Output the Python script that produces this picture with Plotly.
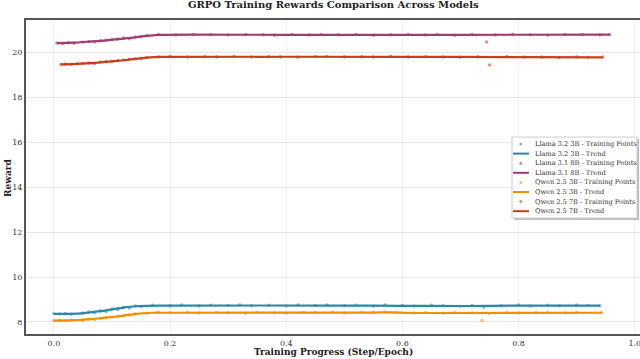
import plotly.graph_objects as go

# ---------------- data ----------------
models = ["Llama 3.2 3B", "Llama 3.1 8B", "Qwen 2.5 3B", "Qwen 2.5 7B"]
colors = ["#2E86AB", "#A23B72", "#F18F01", "#C73E1D"]

llama32_x = [0.00, 0.01, 0.02, 0.03, 0.05, 0.06, 0.07, 0.08, 0.09, 0.10, 0.11, 0.12, 0.13, 0.14, 0.15, 0.17,
             0.20, 0.22, 0.25, 0.27, 0.30, 0.32, 0.34, 0.37, 0.40, 0.42, 0.45, 0.47, 0.50, 0.52, 0.55, 0.57,
             0.60, 0.62, 0.65, 0.67, 0.70, 0.72, 0.74, 0.77, 0.80, 0.82, 0.85, 0.87, 0.90, 0.92, 0.94]
llama32_y = [8.37, 8.35, 8.38, 8.34, 8.40, 8.44, 8.41, 8.50, 8.47, 8.58, 8.55, 8.66, 8.62, 8.71, 8.69, 8.74,
             8.72, 8.75, 8.71, 8.74, 8.73, 8.76, 8.72, 8.74, 8.71, 8.75, 8.73, 8.76, 8.72, 8.74, 8.70, 8.75,
             8.73, 8.71, 8.74, 8.72, 8.70, 8.73, 8.66, 8.72, 8.75, 8.71, 8.74, 8.72, 8.75, 8.73, 8.72]
llama32_trend_x = [0.00, 0.04, 0.06, 0.08, 0.10, 0.12, 0.14, 0.16, 0.20, 0.50, 0.60, 0.70, 0.80, 0.94]
llama32_trend_y = [8.36, 8.37, 8.42, 8.48, 8.56, 8.64, 8.70, 8.72, 8.73, 8.73, 8.72, 8.71, 8.73, 8.73]

llama31_x = [0.005, 0.015, 0.025, 0.035, 0.05, 0.06, 0.07, 0.08, 0.09, 0.10, 0.11, 0.12, 0.13, 0.14, 0.15, 0.16,
             0.18, 0.21, 0.24, 0.27, 0.30, 0.33, 0.36, 0.38, 0.41, 0.44, 0.46, 0.49, 0.52, 0.55, 0.58, 0.61,
             0.64, 0.66, 0.69, 0.72, 0.745, 0.76, 0.79, 0.82, 0.85, 0.88, 0.91, 0.94, 0.957]
llama31_y = [20.41, 20.39, 20.42, 20.40, 20.44, 20.47, 20.45, 20.51, 20.53, 20.56, 20.58, 20.63, 20.60, 20.67, 20.70, 20.73,
             20.78, 20.76, 20.79, 20.77, 20.76, 20.79, 20.77, 20.75, 20.78, 20.76, 20.79, 20.77, 20.78, 20.75, 20.77, 20.79,
             20.76, 20.78, 20.75, 20.79, 20.45, 20.76, 20.80, 20.77, 20.75, 20.78, 20.79, 20.76, 20.78]
llama31_trend_x = [0.005, 0.033, 0.062, 0.09, 0.127, 0.155, 0.18, 0.40, 0.70, 0.957]
llama31_trend_y = [20.40, 20.42, 20.47, 20.52, 20.62, 20.71, 20.77, 20.77, 20.77, 20.78]

qwen3_x = [0.00, 0.01, 0.02, 0.03, 0.05, 0.06, 0.07, 0.08, 0.09, 0.10, 0.11, 0.12, 0.13, 0.14, 0.16, 0.18,
           0.20, 0.23, 0.25, 0.28, 0.30, 0.33, 0.35, 0.38, 0.40, 0.43, 0.45, 0.48, 0.50, 0.53, 0.55, 0.57,
           0.59, 0.62, 0.64, 0.67, 0.69, 0.72, 0.737, 0.75, 0.78, 0.80, 0.83, 0.85, 0.88, 0.90, 0.943]
qwen3_y = [8.06, 8.08, 8.05, 8.09, 8.07, 8.12, 8.10, 8.16, 8.19, 8.21, 8.24, 8.27, 8.31, 8.36, 8.38, 8.42,
           8.41, 8.43, 8.40, 8.42, 8.41, 8.39, 8.43, 8.41, 8.40, 8.42, 8.41, 8.43, 8.40, 8.42, 8.43, 8.44,
           8.42, 8.40, 8.42, 8.39, 8.41, 8.40, 8.06, 8.38, 8.42, 8.40, 8.41, 8.43, 8.40, 8.42, 8.41]
qwen3_trend_x = [0.00, 0.04, 0.06, 0.09, 0.12, 0.14, 0.17, 0.20, 0.55, 0.58, 0.62, 0.943]
qwen3_trend_y = [8.06, 8.08, 8.12, 8.19, 8.28, 8.36, 8.41, 8.41, 8.42, 8.43, 8.40, 8.41]

qwen7_x = [0.012, 0.02, 0.03, 0.04, 0.05, 0.06, 0.07, 0.08, 0.09, 0.10, 0.11, 0.12, 0.13, 0.14, 0.15, 0.16,
           0.18, 0.20, 0.23, 0.26, 0.28, 0.31, 0.34, 0.37, 0.39, 0.42, 0.45, 0.47, 0.50, 0.53, 0.55, 0.58,
           0.61, 0.64, 0.67, 0.70, 0.73, 0.75, 0.78, 0.81, 0.84, 0.87, 0.90, 0.92, 0.945]
qwen7_y = [19.45, 19.47, 19.46, 19.48, 19.50, 19.52, 19.50, 19.56, 19.58, 19.60, 19.63, 19.65, 19.68, 19.71, 19.73, 19.77,
           19.79, 19.81, 19.78, 19.80, 19.79, 19.81, 19.78, 19.80, 19.79, 19.77, 19.80, 19.81, 19.78, 19.80, 19.79, 19.82,
           19.78, 19.80, 19.79, 19.77, 19.80, 19.43, 19.81, 19.78, 19.79, 19.76, 19.80, 19.77, 19.78]
qwen7_trend_x = [0.012, 0.033, 0.062, 0.09, 0.12, 0.148, 0.165, 0.183, 0.60, 0.80, 0.945]
qwen7_trend_y = [19.46, 19.47, 19.51, 19.57, 19.64, 19.72, 19.77, 19.79, 19.79, 19.78, 19.77]

points_x = [llama32_x, llama31_x, qwen3_x, qwen7_x]
points_y = [llama32_y, llama31_y, qwen3_y, qwen7_y]
trend_x = [llama32_trend_x, llama31_trend_x, qwen3_trend_x, qwen7_trend_x]
trend_y = [llama32_trend_y, llama31_trend_y, qwen3_trend_y, qwen7_trend_y]

y_ticks = [8, 10, 12, 14, 16, 18, 20]
x_ticks = [0.0, 0.2, 0.4, 0.6, 0.8, 1.0]

# ---------------- figure ----------------
W, H = 640, 359
ML, MR, MT, MB = 26, 0, 20, 25
FONT = "DejaVu Serif"
PW, PH = W - ML - MR, H - MT - MB


def px(x):
    return (x - ML) / PW


def py(y):
    return (H - MB - y) / PH


fig = go.Figure()
for i, m in enumerate(models):
    fig.add_trace(go.Scatter(x=points_x[i], y=points_y[i], mode="markers",
                             marker=dict(color=colors[i], size=3.5, opacity=0.55, line=dict(width=0)),
                             name=f"{m} - Training Points", showlegend=False))
    fig.add_trace(go.Scatter(x=trend_x[i], y=trend_y[i], mode="lines",
                             line=dict(color=colors[i], width=2.2, shape="spline", smoothing=0.6),
                             name=f"{m} - Trend", showlegend=False))

fig.update_layout(
    width=W, height=H,
    margin=dict(l=ML, r=MR, t=MT, b=MB, autoexpand=False),
    paper_bgcolor="white", plot_bgcolor="white",
    font=dict(family=FONT, color="#333333", size=8),
    xaxis=dict(range=[-0.048, 1.009], tickvals=x_ticks, ticktext=[f"{v:.1f}" for v in x_ticks],
               showgrid=True, gridcolor="rgba(0,0,0,0.05)", gridwidth=1, zeroline=False,
               showline=True, linecolor="#555555", linewidth=2, mirror=True, ticks="",
               ticklabeloverflow="allow",
               automargin=False, tickfont=dict(size=8, color="#333333")),
    yaxis=dict(range=[7.465, 21.43], tickvals=y_ticks, ticktext=[str(v) for v in y_ticks],
               showgrid=True, gridcolor="rgba(0,0,0,0.09)", gridwidth=1, zeroline=False,
               showline=True, linecolor="#555555", linewidth=2, mirror=False, ticks="",
               automargin=False, tickfont=dict(size=8, color="#333333")),
)

# titles as annotations for precise placement
fig.add_annotation(xref="paper", yref="paper", x=0.5, y=py(5), text="<b>GRPO Training Rewards Comparison Across Models</b>",
                   showarrow=False, xanchor="center", yanchor="middle", font=dict(family=FONT, size=10, color="#222222"))
fig.add_annotation(xref="paper", yref="paper", x=0.5, y=py(352), text="<b>Training Progress (Step/Epoch)</b>",
                   showarrow=False, xanchor="center", yanchor="middle", font=dict(family=FONT, size=9, color="#222222"))
fig.add_annotation(xref="paper", yref="paper", x=px(8), y=py(178), text="<b>Reward</b>", textangle=-90,
                   showarrow=False, xanchor="center", yanchor="middle", font=dict(family=FONT, size=9, color="#222222"))

# ---------------- legend (drawn box) ----------------
bx0, bx1, by0, by1 = 512, 637, 137, 218
fig.add_shape(type="rect", xref="paper", yref="paper", x0=px(bx0 + 2), x1=px(bx1 + 2), y0=py(by1 + 2), y1=py(by0 + 2),
              fillcolor="rgba(0,0,0,0.25)", line=dict(width=0), layer="above")
fig.add_shape(type="rect", xref="paper", yref="paper", x0=px(bx0), x1=px(bx1), y0=py(by1), y1=py(by0),
              fillcolor="white", line=dict(color="#cccccc", width=1), layer="above")
labels = []
for i, m in enumerate(models):
    labels.append((f"{m} - Training Points", colors[i], "marker"))
    labels.append((f"{m} - Trend", colors[i], "line"))
y0 = 144
step = 9.6
for k, (txt, c, kind) in enumerate(labels):
    yy = y0 + k * step
    if kind == "marker":
        fig.add_shape(type="circle", xref="paper", yref="paper",
                      x0=px(519.3), x1=px(522.3), y0=py(yy + 1.5), y1=py(yy - 1.5),
                      fillcolor=c, opacity=0.6, line=dict(width=0), layer="above")
    else:
        fig.add_shape(type="line", xref="paper", yref="paper", x0=px(513), x1=px(529), y0=py(yy), y1=py(yy),
                      line=dict(color=c, width=2), layer="above")
    fig.add_annotation(xref="paper", yref="paper", x=px(533), y=py(yy), text=txt, showarrow=False,
                       xanchor="left", yanchor="middle", font=dict(family=FONT, size=6.6, color="#333333"))

fig.write_html("out.html", config={"displayModeBar": False},
               post_script="document.body.style.margin='0';document.body.style.overflow='hidden';")
